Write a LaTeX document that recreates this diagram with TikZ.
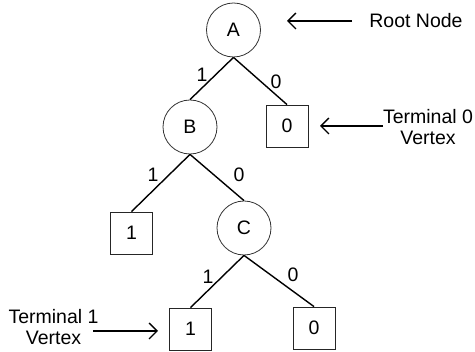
\documentclass[tikz,border=0pt]{standalone}
\usepackage{fontspec}
\setmainfont{Liberation Sans}
\usetikzlibrary{arrows.meta}
\begin{document}
\begin{tikzpicture}[x=1pt,y=-1pt,
  font=\fontsize{19.5}{21}\selectfont,
  vtx/.style={circle,draw=black!80,line width=0.8pt,minimum size=54pt,inner sep=0pt},
  term/.style={rectangle,draw=black!85,line width=0.8pt,minimum size=42pt,inner sep=0pt},
  edg/.style={line width=1.4pt},
  lbl/.style={inner sep=0pt},
  note/.style={align=center,inner sep=0pt},
  arr/.style={line width=1.3pt,-{Straight Barb[length=8pt,width=16pt,line width=1.3pt]}}]
\useasboundingbox (0,0) rectangle (475,352);
% vertices
\node[vtx] (A) at (233.5,30) {A};
\node[vtx] (B) at (190,127) {B};
\node[vtx] (C) at (244,228) {C};
\node[term] (T0a) at (287,126) {0};
\node[term] (T1a) at (131.5,233) {1};
\node[term] (T1b) at (190.5,329) {1};
\node[term] (T0b) at (314,328) {0};
% edges
\draw[edg] (A.south) -- (B.north);
\draw[edg] (A.south) -- (T0a.north);
\draw[edg] (B.south) -- (T1a.north);
\draw[edg] (B.south) -- (C.north);
\draw[edg] (C.south) -- (T1b.north);
\draw[edg] (C.south) -- (T0b.north);
% edge labels
\node[lbl] (l1) at (202,75) {1};
\node[lbl] (l2) at (276,82) {0};
\node[lbl] (l3) at (153,175) {1};
\node[lbl] (l4) at (239,175) {0};
\node[lbl] (l5) at (208,277) {1};
\node[lbl] (l6) at (293,275) {0};
% annotations
\node[note] (root) at (416,21) {Root Node};
\node[note] (t0) at (428,127) {Terminal 0\\Vertex};
\node[note] (t1) at (53.5,327) {Terminal 1\\Vertex};
\coordinate (r1) at (352,21);
\coordinate (r2) at (287,21);
\coordinate (s1) at (383,126);
\coordinate (s2) at (320,126);
\coordinate (u1) at (93,331);
\coordinate (u2) at (158,331);
\draw[arr] (r1) -- (r2);
\draw[arr] (s1) -- (s2);
\draw[arr] (u1) -- (u2);
\end{tikzpicture}
\end{document}
